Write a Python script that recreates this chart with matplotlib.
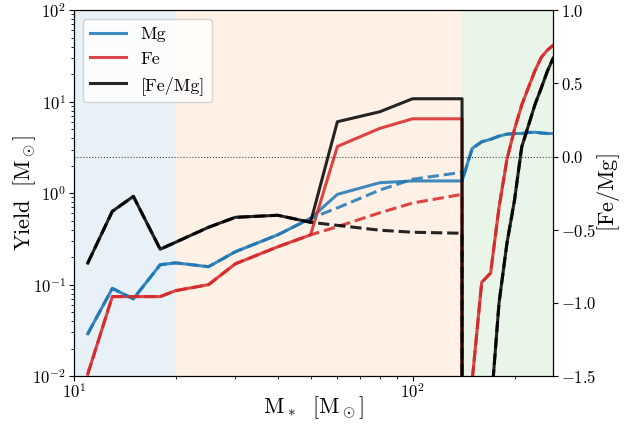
import matplotlib
matplotlib.use("Agg")
import matplotlib.pyplot as plt

plt.rcParams['font.family'] = 'serif'
plt.rcParams['font.serif'] = ['cmr10', 'DejaVu Serif']
plt.rcParams['mathtext.fontset'] = 'cm'
plt.rcParams['axes.formatter.use_mathtext'] = True
plt.rcParams['axes.unicode_minus'] = True

# stellar masses, CCSN part then PISN part (140 appears twice: jump between the two models)
mass = [11, 13, 15, 18, 20, 25, 30, 40, 50, 60, 80, 100, 140,
        140, 150, 160, 170, 180, 190, 200, 210, 220, 230, 240, 250, 260]
mg = [0.029, 0.091, 0.070, 0.165, 0.173, 0.157, 0.229, 0.35, 0.53, 0.97, 1.30, 1.36, 1.36,
      1.36, 3.08, 3.64, 3.88, 4.2, 4.42, 4.49, 4.49, 4.6, 4.63, 4.55, 4.49, 4.49]
fe = [0.0105, 0.074, 0.074, 0.074, 0.086, 0.10, 0.169, 0.259, 0.35, 3.24, 5.1, 6.5, 6.5,
      1e-6, 0.009, 0.106, 0.134, 0.7, 2.35, 5.0, 9.2, 14.4, 22.0, 30.6, 36.6, 41.4]
femg = [-0.728, -0.374, -0.272, -0.633, -0.585, -0.483, -0.415, -0.401, -0.449, 0.238, 0.306, 0.395, 0.395,
        -10.0, -2.8, -1.81, -1.74, -1.0, -0.59, -0.297, 0.065, 0.215, 0.358, 0.47, 0.583, 0.672]

# alternative (dashed) yields for 50-140 Msun
mass_alt = [50, 60, 80, 100, 140]
mg_alt = [0.53, 0.69, 1.08, 1.42, 1.69]
fe_alt = [0.35, 0.43, 0.61, 0.78, 0.97]
femg_alt = [-0.449, -0.47, -0.503, -0.517, -0.524]

# splice the alternative part into the full series
i0, i1 = mass.index(50), 13
mass_d = mass[:i0] + mass_alt + mass[i1:]
mg_d = mg[:i0] + mg_alt + mg[i1:]
fe_d = fe[:i0] + fe_alt + fe[i1:]
femg_d = femg[:i0] + femg_alt + femg[i1:]

c_mg = '#1f77b4'
c_fe = '#d62728'
c_r = 'k'
lw = 2.2
al = 0.85

fig, ax = plt.subplots(figsize=(6.3, 4.25), dpi=100)
fig.subplots_adjust(left=0.117, right=0.878, top=0.976, bottom=0.115)
ax2 = ax.twinx()

ax.axvspan(10, 20, color='tab:blue', alpha=0.1, lw=0)
ax.axvspan(20, 140, color='tab:orange', alpha=0.1, lw=0)
ax.axvspan(140, 260, color='tab:green', alpha=0.1, lw=0)

l1, = ax.plot(mass, mg, color=c_mg, lw=lw, alpha=al, label='Mg')
l2, = ax.plot(mass, fe, color=c_fe, lw=lw, alpha=al, label='Fe')
ax.plot(mass_d, mg_d, color=c_mg, lw=lw, alpha=al, ls='--')
ax.plot(mass_d, fe_d, color=c_fe, lw=lw, alpha=al, ls='--')

l3, = ax2.plot(mass, femg, color=c_r, lw=lw, alpha=al, label='[Fe/Mg]')
ax2.plot(mass_d, femg_d, color=c_r, lw=lw, alpha=al, ls='--')
ax2.axhline(0, color='k', ls=':', lw=0.8, alpha=0.7)

ax.set_xscale('log')
ax.set_yscale('log')
ax.set_xlim(10, 260)
ax.set_ylim(1e-2, 1e2)
ax2.set_ylim(-1.5, 1.0)
ax2.set_yticks([-1.5, -1.0, -0.5, 0.0, 0.5, 1.0])

ax.set_xlabel(r'$\mathrm{M_*\ \ [M_\odot]}$', fontsize=16, va='center')
ax.xaxis.set_label_coords(0.5, -0.087)
ax.set_ylabel(r'$\mathrm{Yield\ \ [M_\odot]}$', fontsize=16, va='center')
ax.yaxis.set_label_coords(-0.102, 0.5)
ax2.set_ylabel(r'$\mathrm{[Fe/Mg]}$', fontsize=16, va='center')
ax2.yaxis.set_label_coords(1.115, 0.5)
ax.tick_params(labelsize=12)
ax.tick_params(axis='x', pad=1)
ax.tick_params(axis='y', pad=2)
ax2.tick_params(labelsize=12, pad=2)

ax2.legend(handles=[l1, l2, l3], loc='upper left', fontsize=13)

plt.savefig('out.png', dpi=100)
